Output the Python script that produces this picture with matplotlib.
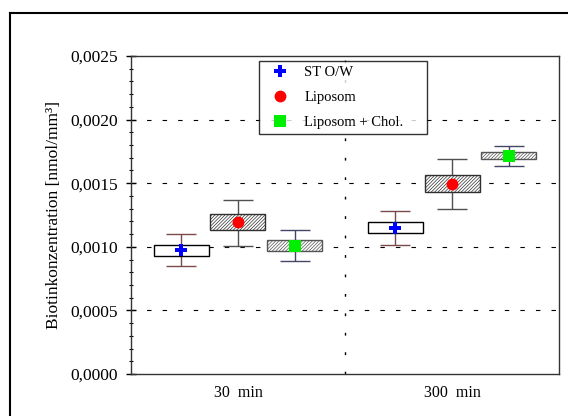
import matplotlib.pyplot as plt
from matplotlib.lines import Line2D
import numpy as np

plt.rcParams['font.family'] = ['Liberation Serif', 'DejaVu Serif']
plt.rcParams['hatch.linewidth'] = 0.5
plt.rcParams['hatch.color'] = '#6a6a6a'

# data
categories = ["30 min", "300 min"]
series = ["ST O/W", "Liposom", "Liposom + Chol."]
means = [[0.000975, 0.001148],
         [0.001195, 0.001494],
         [0.001006, 0.001714]]
box_lo = [[0.000928, 0.001108],
          [0.001132, 0.001431],
          [0.000967, 0.001690]]
box_hi = [[0.001014, 0.001195],
          [0.001258, 0.001564],
          [0.001053, 0.001745]]
wh_lo = [[0.000850, 0.001014],
         [0.001006, 0.001297],
         [0.000888, 0.001635]]
wh_hi = [[0.001100, 0.001281],
         [0.001368, 0.001690],
         [0.001132, 0.001792]]

markers = ['P', 'o', 's']
mcolors = ['#0000ff', '#ff0000', '#00ee00']
wcolors = ['#7a4a4a', '#505050', '#45456a']
hatches = [None, '/' * 10, '/' * 10]
ecolors = ['black', '#303030', '#555555']
offsets = [-0.266, 0.0, 0.266]
box_w = 0.257

fig = plt.figure(figsize=(5.68, 4.16), dpi=100)
ax = fig.add_axes([0.2306, 0.101, 0.7536, 0.7644])

x = np.arange(len(categories))
for i in range(len(series)):
    xs = x + offsets[i]
    m = np.array(means[i])
    lo = np.array(wh_lo[i])
    hi = np.array(wh_hi[i])
    ax.errorbar(xs, m, yerr=[m - lo, hi - m], fmt='none', ecolor=wcolors[i],
                elinewidth=1.0, capsize=10.8, capthick=1.0, zorder=2)
    bl = np.array(box_lo[i])
    bh = np.array(box_hi[i])
    ax.bar(xs, bh - bl, bottom=bl, width=box_w, facecolor='white',
           edgecolor=ecolors[i], linewidth=1.0, hatch=hatches[i], zorder=3)
    ax.plot(xs, m, linestyle='none', marker=markers[i], color=mcolors[i],
            markersize=8.5, markeredgewidth=0, zorder=4, label=series[i])

ax.set_xlim(-0.5, 1.5)
ax.set_ylim(0, 0.0025)
ax.set_xticks(x)
ax.set_xticklabels(["30  min", "300  min"], fontsize=11.5)
yt = np.arange(0, 0.0026, 0.0005)
ax.set_yticks(yt)
ax.set_yticklabels([("%.4f" % v).replace('.', ',') for v in yt], fontsize=12.5)
ax.set_yticks(np.arange(0, 0.0025, 0.0001), minor=True)
ax.tick_params(axis='y', which='major', direction='inout', length=7, width=1, pad=6)
ax.tick_params(axis='y', which='minor', direction='inout', length=3, width=0.8)
ax.tick_params(axis='x', length=0, pad=8)
ax.set_ylabel("Biotinkonzentration [nmol/mm³]", fontsize=12.5, labelpad=6)

for v in yt[1:-1]:
    ax.axhline(v, color='black', linewidth=0.8, linestyle=(0, (4, 10)), zorder=1)
ax.axvline(0.5, color='black', linewidth=1.0, linestyle=(0, (2, 12)), zorder=1)

for s in ax.spines.values():
    s.set_linewidth(1.0)
    s.set_color('#333333')

leg = ax.legend(loc='upper left', bbox_to_anchor=(0.299, 0.5, 0.3925, 0.484),
                mode='expand', borderaxespad=0, fontsize=10.5,
                frameon=True, fancybox=False, edgecolor='black',
                handletextpad=0.55, borderpad=0.35, labelspacing=0.8,
                handlelength=2.2)
leg.get_frame().set_linewidth(1.0)

# outer frame
fig.add_artist(Line2D([10 / 568, 1], [1 - 13 / 416, 1 - 13 / 416],
                      transform=fig.transFigure, color='black', linewidth=1.5))
fig.add_artist(Line2D([10 / 568, 10 / 568], [0, 1 - 13 / 416],
                      transform=fig.transFigure, color='black', linewidth=1.5))

fig.savefig("out.png", dpi=100)
